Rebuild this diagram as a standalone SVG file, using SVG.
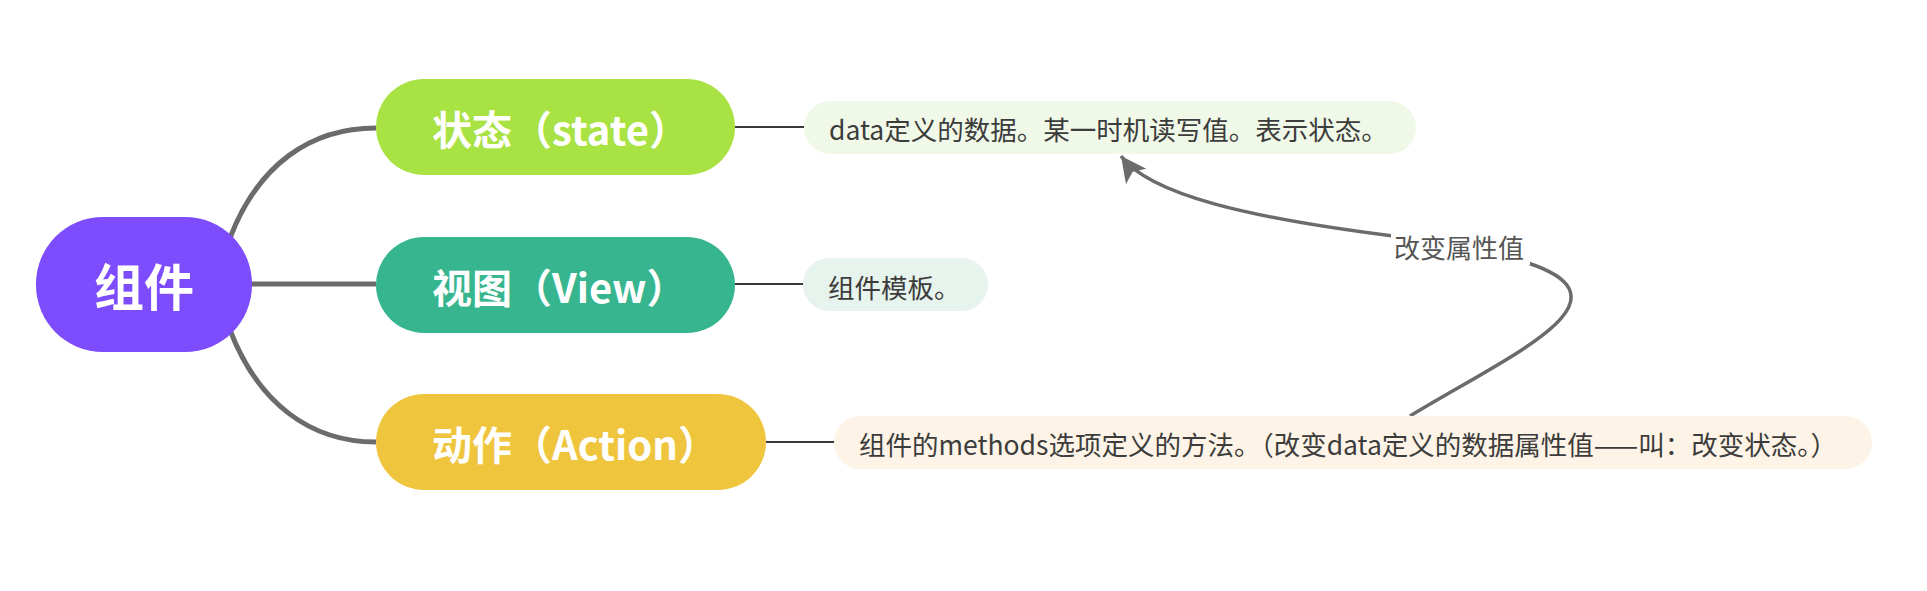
<svg xmlns="http://www.w3.org/2000/svg" width="1927" height="591" viewBox="0 0 1927 591">
  <defs>
    <style>
      .branch { fill: none; stroke: #6b6b6b; stroke-width: 5; }
      .thin { fill: none; stroke: #3a3a3a; stroke-width: 2; }
      .rel { fill: none; stroke: #6b6b6b; stroke-width: 3.5; }
      .title { font-family: "Noto Sans CJK SC", "Noto Sans", sans-serif; font-weight: bold; fill: #ffffff; }
      .lbl { font-family: "Noto Sans CJK SC", "Noto Sans", sans-serif; font-size: 26.5px; fill: #3c3c3c; }
      .rellbl { font-family: "Noto Sans CJK SC", "Noto Sans", sans-serif; font-size: 26px; fill: #555555; }
    </style>
    <marker id="arrow" markerUnits="userSpaceOnUse" markerWidth="30" markerHeight="30" viewBox="-24 -13 26 26" refX="0" refY="0" orient="auto">
      <path d="M0,0 L-22,-11 L-17,0 L-22,11 Z" fill="#6b6b6b"/>
    </marker>
  </defs>
  <rect width="1927" height="591" fill="#ffffff"/>

  <g id="connectors">
    <path class="branch" d="M230,238 C258,165 310,128 376,128"/>
    <path class="branch" d="M240,284 L376,284"/>
    <path class="branch" d="M230,330 C258,403 310,442 376,442"/>
    <path class="thin" d="M735,127 L805,127"/>
    <path class="thin" d="M734,284 L804,284"/>
    <path class="thin" d="M766,442 L835,442"/>
    <path class="rel" d="M1410,416 C1510,355 1640,300 1528,263 L1393,236 C1250,218 1150,195 1121,156" marker-end="url(#arrow)"/>
  </g>

  <g id="node-root">
    <rect x="36" y="217" width="216" height="135" rx="67" ry="67" fill="#7d4cfc"/>
    <text class="title" x="144" y="306" font-size="50" text-anchor="middle">组件</text>
  </g>

  <g id="node-state">
    <rect x="376" y="79" width="359" height="96" rx="48" ry="48" fill="#a9e243"/>
    <text class="title" x="432" y="145" font-size="40">状态（state）</text>
  </g>

  <g id="node-view">
    <rect x="376" y="237" width="359" height="96" rx="48" ry="48" fill="#36b58e"/>
    <text class="title" x="432" y="303" font-size="40">视图（View）</text>
  </g>

  <g id="node-action">
    <rect x="376" y="394" width="390" height="96" rx="48" ry="48" fill="#f0c53e"/>
    <text class="title" x="432" y="460" font-size="40">动作（Action）</text>
  </g>

  <g id="label-state">
    <rect x="804" y="101" width="612" height="53" rx="26.5" ry="26.5" fill="#f0f8e7"/>
    <text class="lbl" x="829" y="140">data定义的数据。某一时机读写值。表示状态。</text>
  </g>

  <g id="label-view">
    <rect x="803" y="258" width="185" height="53" rx="26.5" ry="26.5" fill="#e7f3ed"/>
    <text class="lbl" x="828" y="298">组件模板。</text>
  </g>

  <g id="label-action">
    <rect x="834" y="416" width="1038" height="53" rx="26.5" ry="26.5" fill="#fdf4e7"/>
    <text class="lbl" x="859" y="455">组件的methods选项定义的方法。（改变data定义的数据属性值——叫：改变状态。）</text>
  </g>

  <g id="relation-label">
    <rect x="1391" y="234" width="139" height="31" fill="#ffffff"/>
    <text class="rellbl" x="1394" y="258">改变属性值</text>
  </g>
</svg>
